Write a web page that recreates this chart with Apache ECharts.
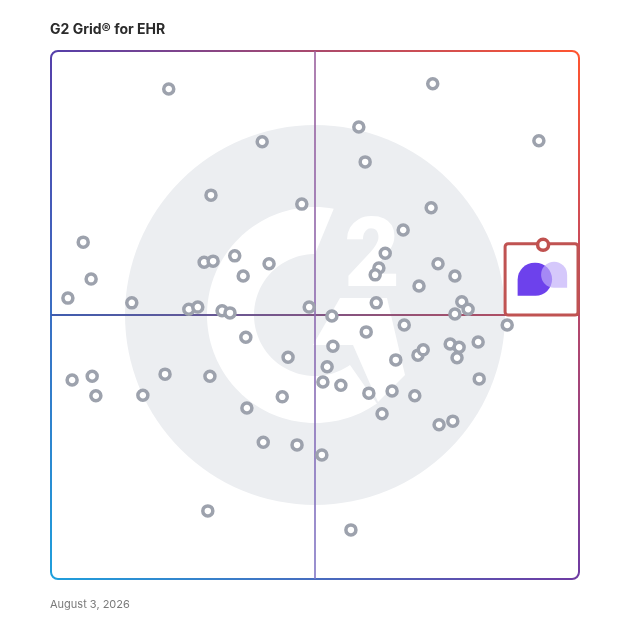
<!DOCTYPE html>
<html><head><meta charset="utf-8">
<script src="https://cdn.jsdelivr.net/npm/echarts@6/dist/echarts.min.js"></script>
<style>html,body{margin:0;padding:0;background:#fff}#c{width:628px;height:628px}</style>
</head><body><div id="c"></div>
<script>
// Satisfaction (x) and Market Presence (y), 0-100 scale
const satisfaction = [22.3,40.0,30.3,47.5,6.1,7.6,3.2,15.3,29.0,30.7,
  34.8,36.4,41.3,26.1,27.8,32.4,33.9,48.9,72.3,58.3,
  92.4,59.5,72.0,66.7,63.3,62.1,61.4,73.3,76.5,69.7,
  61.6,77.8,79.0,76.5,53.2,4.0,7.8,8.5,17.4,21.6,
  30.1,36.9,44.9,43.8,37.1,40.2,46.6,29.7,66.9,59.7,
  86.4,53.4,52.3,51.5,54.9,65.3,69.5,70.5,75.6,77.3,
  76.9,80.9,81.1,60.2,64.6,68.9,62.7,73.5,76.1,51.3,56.8];
const presence = [92.8,82.8,72.7,71.0,63.8,56.8,53.2,52.3,60.0,60.2,
  61.2,57.4,59.7,51.1,51.5,50.8,50.4,51.5,93.8,85.6,
  83.0,79.0,70.3,66.1,61.7,58.9,57.6,59.7,57.4,55.5,
  52.3,52.5,51.1,50.2,49.8,37.7,38.4,34.7,34.8,38.8,
  38.4,45.8,42.0,34.5,32.4,25.9,25.4,12.9,48.1,46.8,
  48.1,44.1,40.2,37.3,36.7,41.5,42.4,43.4,44.5,43.9,
  41.9,44.9,37.9,35.2,35.6,34.7,31.3,29.2,29.9,23.5,9.3];
const leaderSatisfaction = [93.2];
const leaderPresence = [63.3];
const titleText = 'G2 Grid® for EHR';
const dateText = 'August 3, 2026';
const axisMin = 0, axisMax = 100, midValue = 50;

const chart = echarts.init(document.getElementById('c'));
chart.setOption({
  animation: false,
  title: [
    {text: titleText, left: 50, top: 23, padding: 0, textStyle: {fontFamily: 'Inter', fontSize: 14, fontWeight: 700, color: '#2b2b2b'}},
    {text: dateText, left: 50, top: 599, padding: 0, textStyle: {fontFamily: 'Inter', fontSize: 11, fontWeight: 400, color: '#7a7a7a'}}
  ],
  grid: {left: 51, top: 51, width: 528, height: 528},
  xAxis: {type: 'value', min: axisMin, max: axisMax, show: false},
  yAxis: {type: 'value', min: axisMin, max: axisMax, show: false},
  series: [
    {type: 'scatter', silent: true, z: 5,
     data: satisfaction.map((x, i) => [x, presence[i]]),
     symbol: 'circle', symbolSize: 10,
     itemStyle: {color: '#fff', borderColor: '#9da2ad', borderWidth: 3.5, opacity: 1}},
    {type: 'scatter', silent: true, z: 20,
     data: leaderSatisfaction.map((x, i) => [x, leaderPresence[i]]),
     symbol: 'circle', symbolSize: 11,
     itemStyle: {color: '#fff', borderColor: '#c0514f', borderWidth: 3.5, opacity: 1}}
  ]
});

const P = (x, y) => chart.convertToPixel({gridIndex: 0}, [x, y]);
const [x0, y1] = P(axisMin, axisMin);
const [x1, y0] = P(axisMax, axisMax);
const [mx, my] = P(midValue, midValue);
const s = (x1 - x0) / 528;
const LG = (ax, ay, bx, by, c1, c2) => new echarts.graphic.LinearGradient(ax, ay, bx, by, [{offset: 0, color: c1}, {offset: 1, color: c2}], true);

const els = [];
// watermark logo
els.push({type: 'circle', z: 1, silent: true, shape: {cx: mx, cy: my, r: 190 * s}, style: {fill: '#eceef1'}});
const ro = 108 * s, ri = 61 * s;
const pts = [];
for (let a = 55; a <= 280; a += 2.5) { const r = a * Math.PI / 180; pts.push([mx + ro * Math.cos(r), my + ro * Math.sin(r)]); }
for (let a = 270; a >= 55; a -= 2.5) { const r = a * Math.PI / 180; pts.push([mx + ri * Math.cos(r), my + ri * Math.sin(r)]); }
els.push({type: 'polygon', z: 2, silent: true, shape: {points: pts}, style: {fill: '#fff'}});
const leg = [[25, -17], [72, -17], [90, 60], [63, 87], [38, 30], [-2, 30]].map(p => [mx + p[0] * s, my + p[1] * s]);
els.push({type: 'polygon', z: 2, silent: true, shape: {points: leg}, style: {fill: '#fff'}});
els.push({type: 'text', z: 2, silent: true, x: mx + 57 * s, y: my - 53 * s,
  style: {text: '2', fill: '#fff', font: '900 96px Roboto', align: 'center', verticalAlign: 'middle'}});

// frame with gradient edges
const TL = '#553faa', TR = '#ff5530', BL = '#1f9fdc', BR = '#6e3ba3';
const cr = 7, lw = 2;
els.push({type: 'line', z: 3, silent: true, shape: {x1: x0 + cr, y1: y0, x2: x1 - cr, y2: y0}, style: {stroke: LG(x0, y0, x1, y0, TL, TR), lineWidth: lw}});
els.push({type: 'line', z: 3, silent: true, shape: {x1: x0 + cr, y1: y1, x2: x1 - cr, y2: y1}, style: {stroke: LG(x0, y1, x1, y1, BL, BR), lineWidth: lw}});
els.push({type: 'line', z: 3, silent: true, shape: {x1: x0, y1: y0 + cr, x2: x0, y2: y1 - cr}, style: {stroke: LG(x0, y0, x0, y1, TL, BL), lineWidth: lw}});
els.push({type: 'line', z: 3, silent: true, shape: {x1: x1, y1: y0 + cr, x2: x1, y2: y1 - cr}, style: {stroke: LG(x1, y0, x1, y1, TR, BR), lineWidth: lw}});
const corner = (cx, cy, a0, c) => ({type: 'arc', z: 3, silent: true, shape: {cx, cy, r: cr, startAngle: a0 * Math.PI / 180, endAngle: (a0 + 90) * Math.PI / 180, clockwise: true}, style: {stroke: c, lineWidth: lw, fill: null}});
els.push(corner(x0 + cr, y0 + cr, 180, TL));
els.push(corner(x1 - cr, y0 + cr, 270, TR));
els.push(corner(x1 - cr, y1 - cr, 0, BR));
els.push(corner(x0 + cr, y1 - cr, 90, BL));
// quadrant dividers
els.push({type: 'line', z: 3, silent: true, shape: {x1: x0, y1: my, x2: x1, y2: my}, style: {stroke: LG(x0, my, x1, my, '#3f5db0', '#c04c58'), lineWidth: 1.8}});
els.push({type: 'line', z: 3, silent: true, shape: {x1: mx, y1: y0, x2: mx, y2: y1}, style: {stroke: LG(mx, y0, mx, y1, '#9a5f9c', '#7f74c4'), lineWidth: 1.6}});

// leader highlight box + product logo
const [qx, qy] = P(leaderSatisfaction[0], leaderPresence[0]);
const bx = qx - 38, by = qy - 1;
els.push({type: 'rect', z: 15, silent: true, shape: {x: bx, y: by, width: x1 - bx - 1, height: my - by, r: 3}, style: {fill: '#fff', stroke: '#c05352', lineWidth: 3}});
els.push({type: 'rect', z: 16, silent: true, shape: {x: bx + 12.5, y: by + 19, width: 34.5, height: 33, r: [17, 17, 17, 0]}, style: {fill: '#6d41ec'}});
els.push({type: 'rect', z: 17, silent: true, shape: {x: bx + 36, y: by + 18, width: 26, height: 26, r: [13, 13, 0, 13]}, style: {fill: '#c0adf9', opacity: 0.67}});

chart.setOption({graphic: {elements: els}});
</script></body></html>
